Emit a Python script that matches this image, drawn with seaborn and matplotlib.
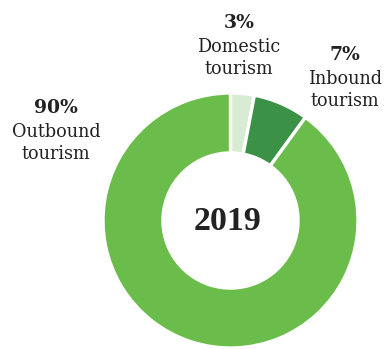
import matplotlib
matplotlib.use("Agg")
import matplotlib.pyplot as plt
import seaborn as sns

categories = ["Domestic\ntourism", "Inbound\ntourism", "Outbound\ntourism"]
shares = [3, 7, 90]
year_label = "2019"
colors = ["#d8ebd3", "#3b9246", "#6bbd4b"]

sns.set_theme(style="white")
plt.rcParams["font.family"] = ["DejaVu Serif"]

W, H = 386, 349
fig = plt.figure(figsize=(W / 100, H / 100), dpi=100)
fig.patch.set_facecolor("white")

# donut centre and radius in pixels
cx, cy, r = 230.5, 220.5, 127.5
ax = fig.add_axes([(cx - r) / W, (H - cy - r) / H, 2 * r / W, 2 * r / H])
ax.pie(shares, colors=colors, startangle=90, counterclock=False,
       radius=1.0, wedgeprops=dict(width=0.47, edgecolor="white", linewidth=2.4))
ax.set_xlim(-1, 1)
ax.set_ylim(-1, 1)
ax.set_aspect("equal")
ax.axis("off")

fig.text(228 / W, 1 - 222 / H, year_label, ha="center", va="center",
         fontsize=24.5, fontweight="bold", color="#222222",
         family="Liberation Serif")

# wedge labels: centre x and baseline of the percentage line, in pixels
label_pos = [(239, 28), (345, 60), (56, 113)]
txt = "#222222"
for (lx, base), cat, val in zip(label_pos, categories, shares):
    fig.text(lx / W, 1 - base / H, f"{val}%", ha="center", va="baseline",
             fontsize=13.5, fontweight="bold", color=txt)
    for i, line in enumerate(cat.split("\n")):
        fig.text(lx / W, 1 - (base + 24 + 22 * i) / H, line, ha="center",
                 va="baseline", fontsize=12.7, color=txt)

fig.savefig("out.png", dpi=100, facecolor="white")
